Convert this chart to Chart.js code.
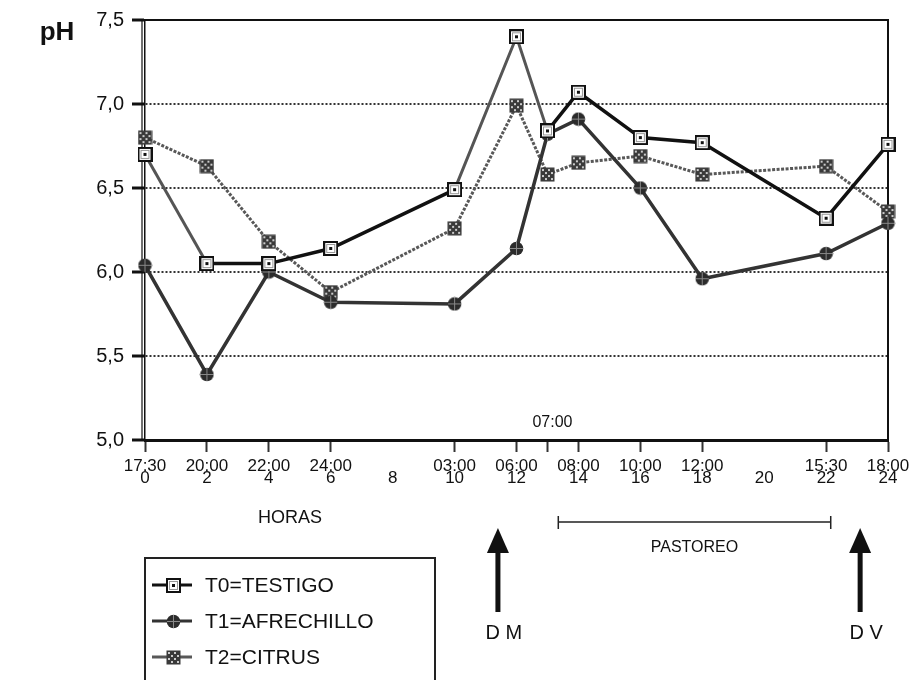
<!DOCTYPE html>
<html>
<head>
<meta charset="utf-8">
<script src="https://cdn.jsdelivr.net/npm/chart.js@4"></script>
<style>
body { margin: 0; background: #fff; }
#wrap { width: 920px; height: 680px; }
</style>
</head>
<body>
<div id="wrap"><canvas id="phChart" width="920" height="680"></canvas></div>
<script>
// Horas de muestreo (posicion en el eje) y hora del dia
const horas = [0, 2, 4, 6, 10, 12, 13, 14, 16, 18, 22, 24];
const horaReloj = ['17:30', '20:00', '22:00', '24:00', '03:00', '06:00', '07:00', '08:00', '10:00', '12:00', '15:30', '18:00'];
const tickHoras = [0, 2, 4, 6, 8, 10, 12, 13, 14, 16, 18, 20, 22, 24];
const ticksPH = [5.0, 5.5, 6.0, 6.5, 7.0, 7.5];

// pH por tratamiento
const t0Testigo = [6.70, 6.05, 6.05, 6.14, 6.49, 7.40, 6.84, 7.07, 6.80, 6.77, 6.32, 6.76];
const t1Afrechillo = [6.04, 5.39, 6.00, 5.82, 5.81, 6.14, 6.82, 6.91, 6.50, 5.96, 6.11, 6.29];
const t2Citrus = [6.80, 6.63, 6.18, 5.88, 6.26, 6.99, 6.58, 6.65, 6.69, 6.58, 6.63, 6.36];

const FUENTE = '"Liberation Sans", Arial, sans-serif';

// marcadores dibujados a mano
function marcador(tipo) {
    const c = document.createElement('canvas');
    c.width = 15; c.height = 15;
    const g = c.getContext('2d');
    if (tipo === 'cuadro') {
        g.fillStyle = '#111'; g.fillRect(0, 0, 15, 15);
        g.fillStyle = '#fff'; g.fillRect(2, 2, 11, 11);
        g.strokeStyle = '#999'; g.lineWidth = 1; g.strokeRect(3.5, 3.5, 8, 8);
        g.fillStyle = '#111'; g.fillRect(6, 6, 3, 3);
    } else if (tipo === 'rombo') {
        g.fillStyle = '#2b2b2b';
        g.beginPath(); g.arc(7.5, 7.5, 6.8, 0, Math.PI * 2); g.fill();
        g.strokeStyle = '#888'; g.lineWidth = 1;
        g.beginPath(); g.moveTo(7.5, 1); g.lineTo(7.5, 14); g.moveTo(1, 7.5); g.lineTo(14, 7.5); g.stroke();
    } else {
        g.fillStyle = '#3a3a3a'; g.fillRect(0.5, 0.5, 14, 14);
        g.fillStyle = '#ccc';
        for (let i = 2; i < 14; i += 3) {
            for (let j = 2; j < 14; j += 3) {
                if ((i + j) % 2 === 0) g.fillRect(i, j, 2, 2);
            }
        }
    }
    return c;
}

const mkT0 = marcador('cuadro');
const mkT1 = marcador('rombo');
const mkT2 = marcador('trama');

function puntos(valores) {
    return horas.map((h, i) => ({ x: h, y: valores[i] }));
}

// tramos "huecos" de la serie testigo
const tramosClaros = [0, 4, 5];

const decoracion = {
    id: 'decoracion',
    beforeDatasetsDraw(chart) {
        const { ctx, chartArea: a } = chart;
        ctx.save();
        ctx.strokeStyle = '#111';
        ctx.lineWidth = 2;
        ctx.beginPath();
        ctx.moveTo(a.left - 13, a.top);
        ctx.lineTo(a.right, a.top);
        ctx.lineTo(a.right, a.bottom);
        ctx.stroke();
        ctx.lineWidth = 1.2;
        ctx.beginPath();
        ctx.moveTo(a.left - 3, a.top);
        ctx.lineTo(a.left - 3, a.bottom);
        ctx.stroke();
        ctx.restore();
    },
    afterDraw(chart) {
        const { ctx, chartArea: a, scales: { x } } = chart;
        ctx.save();
        ctx.fillStyle = '#111';
        ctx.textAlign = 'center';
        ctx.textBaseline = 'middle';

        ctx.font = 'bold 26px ' + FUENTE;
        ctx.fillText('pH', 57, 33);

        ctx.font = '16px ' + FUENTE;
        ctx.fillText('07:00', x.getPixelForValue(13) + 5, a.bottom - 17);

        ctx.font = '18px ' + FUENTE;
        ctx.fillText('HORAS', 290, 518);

        // pastoreo
        const p1 = x.getPixelForValue(13.35), p2 = x.getPixelForValue(22.15);
        ctx.strokeStyle = '#222';
        ctx.lineWidth = 1.5;
        ctx.beginPath();
        ctx.moveTo(p1, 516); ctx.lineTo(p1, 529);
        ctx.moveTo(p2, 516); ctx.lineTo(p2, 529);
        ctx.moveTo(p1, 522); ctx.lineTo(p2, 522);
        ctx.stroke();
        ctx.font = '16px ' + FUENTE;
        ctx.fillText('PASTOREO', (p1 + p2) / 2, 548);

        // flechas de dosificacion
        [[11.4, 'D M'], [23.1, 'D V']].forEach(([h, txt]) => {
            const px = x.getPixelForValue(h);
            ctx.fillStyle = '#111';
            ctx.fillRect(px - 2.5, 548, 5, 64);
            ctx.beginPath();
            ctx.moveTo(px, 528); ctx.lineTo(px - 11, 553); ctx.lineTo(px + 11, 553);
            ctx.closePath(); ctx.fill();
            ctx.font = '20px ' + FUENTE;
            ctx.fillText(txt, px + 6, 633);
        });

        // leyenda
        ctx.strokeStyle = '#222';
        ctx.lineWidth = 2;
        ctx.strokeRect(145, 558, 290, 140);
        chart.data.datasets.forEach((ds, i) => {
            const cy = 585 + i * 36;
            ctx.strokeStyle = ds.borderColor;
            ctx.lineWidth = 3;
            ctx.beginPath(); ctx.moveTo(152, cy); ctx.lineTo(192, cy); ctx.stroke();
            ctx.drawImage(ds.pointStyle, 166, cy - 7);
            ctx.fillStyle = '#111';
            ctx.textAlign = 'left';
            ctx.font = '21px ' + FUENTE;
            ctx.fillText(ds.label, 205, cy + 1);
        });
        ctx.restore();
    }
};

new Chart(document.getElementById('phChart').getContext('2d'), {
    type: 'line',
    data: {
        datasets: [{
            label: 'T0=TESTIGO',
            data: puntos(t0Testigo),
            borderColor: '#111',
            borderWidth: 3.5,
            pointStyle: mkT0,
            segment: {
                borderColor: c => tramosClaros.includes(c.p0DataIndex) ? '#555' : undefined,
                borderWidth: c => tramosClaros.includes(c.p0DataIndex) ? 3 : undefined
            },
            clip: false
        }, {
            label: 'T1=AFRECHILLO',
            data: puntos(t1Afrechillo),
            borderColor: '#333',
            borderWidth: 3.5,
            pointStyle: mkT1,
            clip: false
        }, {
            label: 'T2=CITRUS',
            data: puntos(t2Citrus),
            borderColor: '#585858',
            borderWidth: 3,
            borderDash: [3, 1.5],
            pointStyle: mkT2,
            clip: false
        }]
    },
    options: {
        responsive: false,
        animation: false,
        layout: { padding: { left: 65, right: 32, top: 20, bottom: 180 } },
        plugins: { legend: { display: false }, tooltip: { enabled: false } },
        scales: {
            x: {
                type: 'linear',
                min: 0,
                max: 24,
                afterBuildTicks: s => { s.ticks = tickHoras.map(v => ({ value: v })); },
                afterFit: s => { s.height = 60; },
                grid: {
                    drawOnChartArea: false,
                    tickLength: 12,
                    tickWidth: 2,
                    tickColor: c => (c.tick && (c.tick.value === 8 || c.tick.value === 20)) ? 'rgba(0,0,0,0)' : '#333'
                },
                border: { color: '#111', width: 3 },
                ticks: {
                    autoSkip: false,
                    maxRotation: 0,
                    padding: 8,
                    color: '#111',
                    font: { family: FUENTE, size: 17, lineHeight: 0.7 },
                    callback: v => {
                        if (v === 13) return '';
                        const i = horas.indexOf(v);
                        return [i >= 0 ? horaReloj[i] : '', String(v)];
                    }
                }
            },
            y: {
                min: 5,
                max: 7.5,
                afterBuildTicks: s => { s.ticks = ticksPH.map(v => ({ value: v })); },
                afterFit: s => { s.width = 80; },
                grid: {
                    color: c => (c.tick && (c.tick.value === 5 || c.tick.value === 7.5)) ? 'rgba(0,0,0,0)' : '#333',
                    lineWidth: 2,
                    tickLength: 13,
                    tickWidth: 3,
                    tickColor: '#111'
                },
                border: { color: '#111', width: 1.5, dash: [2, 2] },
                ticks: {
                    padding: 8,
                    color: '#111',
                    font: { family: FUENTE, size: 20 },
                    callback: v => v.toFixed(1).replace('.', ',')
                }
            }
        }
    },
    plugins: [decoracion]
});
</script>
</body>
</html>
